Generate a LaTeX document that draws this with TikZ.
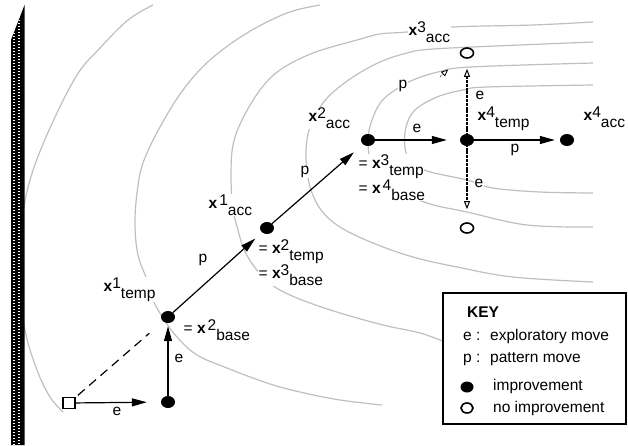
\documentclass[tikz,border=0pt]{standalone}
\usepackage{fontspec}
\setmainfont{Liberation Sans}
\usetikzlibrary{arrows.meta,calc,shapes.geometric}

% bold point symbol with superscript index and subscript role, set side by side
\newcommand{\vx}[2]{\textbf{x}\raisebox{3pt}{#1}\raisebox{-7pt}{#2}}

\tikzset{
  contour/.style={draw=black!25, line width=1.2pt},
  move/.style={-{Triangle[length=15pt,width=8pt]}, line width=1.2pt},
  trial/.style={line width=2.6pt, dash pattern=on 3pt off 0.8pt,
    -{Triangle[open,length=8pt,width=6pt,line width=1pt]}},
  dot/.style={ellipse, fill=black, minimum width=14pt, minimum height=12pt, inner sep=0pt},
  hole/.style={ellipse, draw=black, line width=1.6pt, fill=white,
    minimum width=13pt, minimum height=10pt, inner sep=0pt},
  tag/.style={fill=white, inner sep=0.5pt, anchor=base west},
  mv/.style={fill=white, inner sep=0.5pt}
}

\begin{document}
\begin{tikzpicture}[x=1pt, y=-1pt, font=\fontsize{15.5}{18}\selectfont]
\useasboundingbox (0,0) rectangle (628,445);

% contour lines of the objective
\draw[contour] plot[smooth, tension=0.6] coordinates {
  (153,5) (128,20) (100,48) (77,75) (50,128) (30,180) (21,230) (20,280)
  (25,330) (37,370) (50,397) (63,412)};
\draw[contour] plot[smooth, tension=0.6] coordinates {
  (320,5) (287,13) (247,33) (210,60) (183,90) (160,127) (143,163) (137,193)
  (135,225) (138,255) (147,280) (153,300) (163,318) (177,337) (197,355)
  (227,368) (267,383) (300,392) (340,400) (382,405)};
\draw[contour] plot[smooth, tension=0.6] coordinates {
  (593,22) (533,25) (453,27) (407,32) (380,34) (357,40) (313,53) (280,70)
  (260,90) (242,120) (233,145) (231,173) (232,200) (234,215) (238,230)
  (243,247) (251,262) (262,276) (275,287) (290,295) (310,303) (340,313)
  (383,325) (420,333) (445,342)};
\draw[contour] plot[smooth, tension=0.6] coordinates {
  (593,42) (520,45) (433,49) (407,53) (380,62) (353,77) (330,95) (317,112)
  (309,130) (306,150) (307,170) (311,190) (321,210) (340,227) (373,243)
  (413,257) (457,267) (513,277) (593,282)};
\draw[contour] plot[smooth, tension=0.6] coordinates {
  (593,63) (470,67) (438,72) (413,80) (395,90) (381,102) (372,120)
  (368,140) (372,165) (390,186) (427,203) (467,212) (527,225) (593,227)};
\draw[contour] plot[smooth, tension=0.6] coordinates {
  (593,85) (487,87) (463,90) (437,97) (415,110) (406,127) (405,148)
  (411,161) (427,171) (467,180) (493,188) (540,192) (593,193)};

% textured border strip on the left
\fill[black] (11,40) -- (24.5,5) -- (24.5,445) -- (11,445) -- cycle;
\begin{scope}
  \clip (11,40) -- (24.5,5) -- (24.5,445) -- (11,445) -- cycle;
  \draw[white, line width=1.4pt, dash pattern=on 1.3pt off 1.7pt] (13.8,0) -- (13.8,445);
  \draw[white, line width=2pt, dash pattern=on 1.3pt off 1.7pt, dash phase=1.5pt] (19,0) -- (19,445);
\end{scope}

% point labels
\node[tag] (t1) at (103,291) {\vx{1}{temp}};
\node[tag] (a1) at (208,208) {\textbf{x}\hspace{2pt}\raisebox{3pt}{1}\raisebox{-7pt}{acc}};
\node[tag] (a2) at (308,121) {\vx{2}{acc}};
\node[tag] (a3) at (408,35) {\vx{3}{acc}};
\node[tag] (t4) at (477,120) {\vx{4}{temp}};
\node[tag] (a4) at (583,120) {\vx{4}{acc}};
\node[tag] (b2) at (183,333) {= \textbf{x}\hspace{2pt}\raisebox{3pt}{2}\raisebox{-7pt}{base}};
\node[tag] (t2) at (258,253) {= \vx{2}{temp}};
\node[tag] (b3) at (258,278) {= \vx{3}{base}};
\node[tag] (t3) at (358,168) {= \vx{3}{temp}};
\node[tag] (b4) at (358,193) {= \textbf{x}\hspace{2pt}\raisebox{3pt}{4}\raisebox{-7pt}{base}};

% move labels
\node[mv] (m1) at (117,411) {e};
\node[mv] (m2) at (179,358) {e};
\node[mv] (m3) at (203,260) {p};
\node[mv] (m4) at (305,172) {p};
\node[mv] (m5) at (417,128) {e};
\node[mv] (m6) at (515,150) {p};
\node[mv] (m7) at (480,95) {e};
\node[mv] (m8) at (479,183) {e};
\node[mv] (m9) at (403,86) {p};

% search points
\node[draw, line width=1.2pt, fill=white, minimum width=12pt, minimum height=11pt,
  inner sep=0pt] (S) at (69,403) {};
\node[dot] (A) at (168,402) {};
\node[dot] (B) at (168,317) {};
\node[dot] (C) at (267,228) {};
\node[dot] (D) at (368,140) {};
\node[dot] (E) at (467,140) {};
\node[dot] (F) at (567,140) {};
\node[hole] (U) at (467,53) {};
\node[hole] (L) at (467,228) {};

% moves
\draw[line width=1.2pt, dash pattern=on 9pt off 6pt, shorten <=3pt, shorten >=18pt] (S) -- (B);
\draw[move, shorten >=14pt] (S) -- (A);
\draw[move, shorten >=3pt] (A) -- (B);
\draw[move, shorten >=9pt] (B) -- (C);
\draw[move, shorten >=12pt] (C) -- (D);
\draw[move, shorten >=13pt] (D) -- (E);
\draw[move, shorten >=5pt] (E) -- (F);
\draw[trial, shorten >=10pt] (E.center) -- (U);
\draw[trial, shorten >=13pt] (E.center) -- (L);
\draw[line width=0.8pt, densely dotted,
  -{Triangle[open,length=7pt,width=6pt,line width=0.8pt]}]
  ($(D)!0.73!(U)$) -- ($(D)!0.81!(U)$);

% key
\node[draw, line width=1.4pt, fill=white, minimum width=183pt, minimum height=131pt,
  inner sep=0pt] (key) at (534.5,358.5) {};
\node[anchor=base west, inner sep=0pt, font=\fontsize{15.5}{18}\selectfont\bfseries] (k0) at (467,317) {KEY};
\node[anchor=base west, inner sep=0pt] (k1) at (463,340) {e :};
\node[anchor=base west, inner sep=0pt] (k2) at (490,340) {exploratory move};
\node[anchor=base west, inner sep=0pt] (k3) at (463,362) {p :};
\node[anchor=base west, inner sep=0pt] (k4) at (490,362) {pattern move};
\node[ellipse, fill=black, minimum width=13pt, minimum height=11pt, inner sep=0pt] (k5) at (467,387) {};
\node[anchor=base west, inner sep=0pt] (k6) at (493,390) {improvement};
\node[hole, minimum width=12pt, minimum height=10pt] (k7) at (467,408) {};
\node[anchor=base west, inner sep=0pt] (k8) at (493,412) {no improvement};
\end{tikzpicture}
\end{document}
